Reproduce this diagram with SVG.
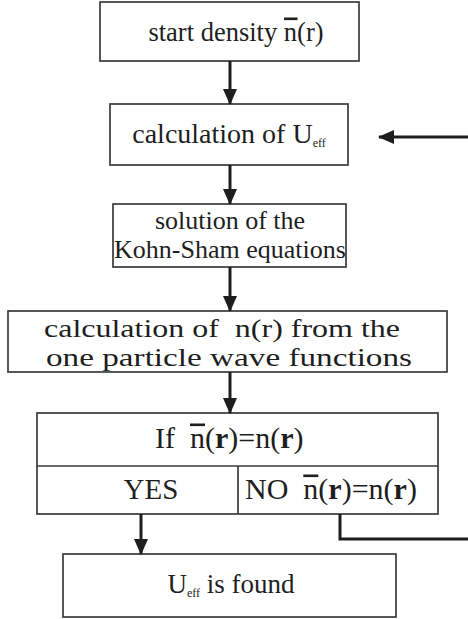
<svg xmlns="http://www.w3.org/2000/svg" width="468" height="619" viewBox="0 0 468 619">
<defs>
<style>
.box{fill:#fff;stroke:#3a3a3a;stroke-width:1.7}
.t{font-family:"Liberation Serif","Times New Roman",serif;fill:#1e1e1e}
.c{text-anchor:middle}
.sub{font-size:12px}
.b{font-weight:bold}
.bar{fill:#1e1e1e}
.con{fill:none;stroke:#1e1e1e;stroke-width:3}
</style>
<marker id="ah" markerUnits="userSpaceOnUse" markerWidth="16" markerHeight="16" viewBox="0 0 16 16" refX="15" refY="8" orient="auto">
<path d="M0,1 L16,8 L0,15 Z" fill="#1e1e1e"/>
</marker>
</defs>
<g id="n1"><rect class="box" x="100" y="2" width="259" height="59"/>
<text class="t" x="148.4" y="41" font-size="26.5">start density n(r)</text>
<rect class="bar" x="284" y="17.5" width="13.5" height="2.6"/></g>
<g id="n2"><rect class="box" x="110" y="104" width="238" height="61"/>
<text class="t c" x="229" y="143" font-size="28">calculation of U<tspan class="sub" dy="4">eff</tspan></text></g>
<g id="n3"><rect class="box" x="113" y="204" width="233" height="63"/>
<text class="t c" x="230" y="229" font-size="26">solution of the</text>
<text class="t c" x="230" y="258" font-size="26">Kohn-Sham equations</text></g>
<g id="n4"><rect class="box" x="8" y="311" width="439" height="61"/>
<text class="t" x="44" y="337" font-size="25" textLength="356" lengthAdjust="spacingAndGlyphs" xml:space="preserve">calculation of  n(r) from the</text>
<text class="t" x="46" y="366" font-size="25" textLength="366" lengthAdjust="spacingAndGlyphs">one particle wave functions</text></g>
<g id="n5"><rect class="box" x="37" y="413" width="401" height="101"/>
<line x1="37" y1="466" x2="438" y2="466" stroke="#3a3a3a" stroke-width="1.7"/>
<line x1="238" y1="466" x2="238" y2="514" stroke="#3a3a3a" stroke-width="1.7"/>
<text class="t" x="155" y="448" font-size="30" xml:space="preserve">If  n(<tspan class="b">r</tspan>)=n(<tspan class="b">r</tspan>)</text>
<rect class="bar" x="190" y="423.5" width="15" height="2.6"/>
<text class="t c" x="151" y="499" font-size="29">YES</text>
<text class="t" x="245" y="499" font-size="30" xml:space="preserve">NO  n(<tspan class="b">r</tspan>)=n(<tspan class="b">r</tspan>)</text>
<rect class="bar" x="303.3" y="474.5" width="15" height="2.6"/></g>
<g id="n6"><rect class="box" x="63" y="554" width="333" height="63"/>
<text class="t c" x="231" y="593" font-size="27">U<tspan class="sub" dy="4">eff</tspan><tspan dy="-4"> is found</tspan></text></g>
<g id="connectors">
<line class="con" x1="230" y1="61" x2="230" y2="104" marker-end="url(#ah)"/>
<line class="con" x1="230" y1="165" x2="230" y2="204" marker-end="url(#ah)"/>
<line class="con" x1="230" y1="267" x2="230" y2="311" marker-end="url(#ah)"/>
<line class="con" x1="230" y1="372" x2="230" y2="413" marker-end="url(#ah)"/>
<line class="con" x1="141" y1="514" x2="141" y2="554" marker-end="url(#ah)"/>
<line class="con" x1="468" y1="137" x2="379" y2="137" marker-end="url(#ah)"/>
<polyline class="con" points="340,514 340,539 468,539"/>
</g>
</svg>
